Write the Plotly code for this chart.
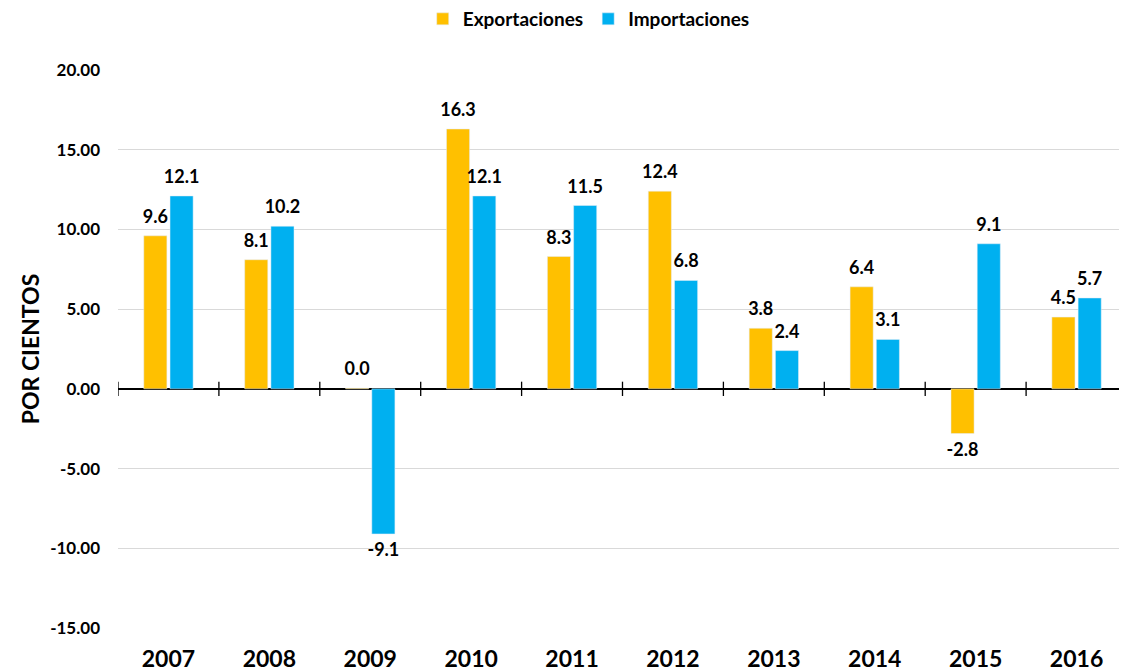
import plotly.graph_objects as go

years = ["2007", "2008", "2009", "2010", "2011", "2012", "2013", "2014", "2015", "2016"]
exportaciones = [9.6, 8.1, 0.04, 16.3, 8.3, 12.4, 3.8, 6.4, -2.8, 4.5]
importaciones = [12.1, 10.2, -9.1, 12.1, 11.5, 6.8, 2.4, 3.1, 9.1, 5.7]
y_ticks = [-15, -10, -5, 0, 5, 10, 15, 20]
y_ticktext = ["-15.00", "-10.00", "-5.00", "0.00", "5.00", "10.00", "15.00", "20.00"]

FONT = "Lato"
GAP = 0.48

fig = go.Figure()
for name, vals, color in [("Exportaciones", exportaciones, "#FFC000"),
                          ("Importaciones", importaciones, "#00B0F0")]:
    fig.add_trace(go.Bar(x=years, y=vals, name=name, marker=dict(color=color)))

# value labels: grouped scatter text with an invisible marker to keep a gap from the bar end
for vals in [exportaciones, importaciones]:
    fig.add_trace(go.Scatter(
        x=years, y=vals, mode="markers+text", showlegend=False, hoverinfo="skip",
        marker=dict(size=12, opacity=0),
        text=[f"{v:.1f}" for v in vals],
        textposition=["top center" if v >= 0 else "bottom center" for v in vals],
        textfont=dict(family=FONT, size=18, color="black", weight="bold"),
        cliponaxis=False,
    ))

# small tick marks on the zero line, between categories
for i in range(len(years) + 1):
    fig.add_shape(type="line", xref="x", yref="y",
                  x0=i - 0.5, x1=i - 0.5, y0=-0.45, y1=0.45,
                  line=dict(color="black", width=1.3))

# page body has an 8px margin, so the figure is a bit smaller than the window
fig.update_layout(
    width=1119, height=663,
    paper_bgcolor="white", plot_bgcolor="white",
    margin=dict(l=110, r=0, t=62, b=43, autoexpand=False),
    barmode="group", bargap=GAP, bargroupgap=0.12,
    scattermode="group", scattergap=GAP,
    font=dict(family=FONT, color="black"),
    showlegend=True,
    legend=dict(orientation="h", x=0.302, xanchor="left", y=1.0914, yref="paper",
                yanchor="middle", font=dict(family=FONT, size=19, color="black", weight="bold"),
                itemwidth=30, traceorder="normal"),
    xaxis=dict(showgrid=False, showline=False, ticks="", ticklabelstandoff=15,
               tickfont=dict(family=FONT, size=23, color="black", weight="bold"),
               range=[-0.5, len(years) - 0.5], automargin=False),
    yaxis=dict(range=[-15, 20], tickvals=y_ticks, ticktext=y_ticktext,
               showgrid=True, gridcolor="#D9D9D9", gridwidth=1,
               zeroline=True, zerolinecolor="black", zerolinewidth=1.5,
               tickfont=dict(family=FONT, size=17, color="black", weight="bold"),
               ticklabelstandoff=17, automargin=False,
               title=dict(text="<b>POR CIENTOS</b>", standoff=4,
                          font=dict(family=FONT, size=23, color="black"))),
)

fig.write_html("out.html")
